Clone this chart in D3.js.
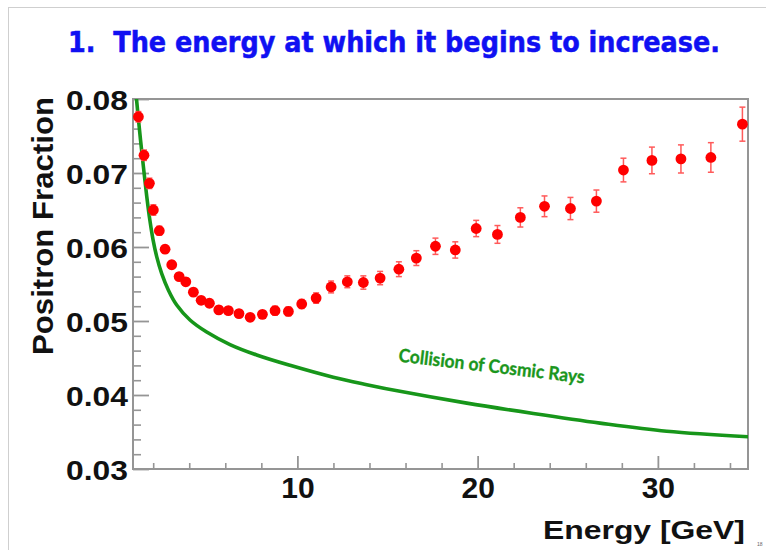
<!DOCTYPE html>
<html>
<head>
<meta charset="utf-8">
<script src="https://cdn.jsdelivr.net/npm/d3@7"></script>
<style>
  html, body { margin: 0; padding: 0; background: #ffffff; }
  svg { display: block; }
</style>
</head>
<body>
<svg id="chart" width="766" height="550"></svg>
<script>
// Measured positron fraction
const energy = [1.18, 1.49, 1.79, 2.01, 2.34, 2.66, 3.03, 3.44, 3.81, 4.23,
                4.66, 5.12, 5.64, 6.17, 6.76, 7.38, 8.06, 8.76, 9.50, 10.24,
                11.04, 11.87, 12.77, 13.66, 14.59, 15.63, 16.6, 17.66, 18.76, 19.92,
                21.1, 22.37, 23.71, 25.15, 26.59, 28.09, 29.67, 31.28, 32.94, 34.69];
const fraction = [0.0776, 0.0724, 0.0686, 0.0650, 0.0622, 0.0597, 0.0576, 0.0560, 0.0553, 0.0539,
                  0.0528, 0.0524, 0.0515, 0.0514, 0.0510, 0.0505, 0.0509, 0.0514, 0.0513, 0.0523,
                  0.0531, 0.0546, 0.0553, 0.0552, 0.0558, 0.0570, 0.0585, 0.0601, 0.0596, 0.0625,
                  0.0617, 0.0640, 0.0655, 0.0652, 0.0662, 0.0704, 0.0717, 0.0719, 0.0721, 0.0766];
const fractionErr = [0.0007, 0.0007, 0.0007, 0.0007, 0.0006, 0.0005, 0.0005, 0.0005, 0.0005, 0.0005,
                     0.0005, 0.0005, 0.0005, 0.0005, 0.0005, 0.0005, 0.0005, 0.0006, 0.0006, 0.0006,
                     0.0007, 0.0008, 0.0008, 0.0009, 0.0009, 0.0010, 0.0010, 0.0011, 0.0011, 0.0011,
                     0.0012, 0.0013, 0.0014, 0.0015, 0.0015, 0.0016, 0.0018, 0.0019, 0.0020, 0.0023];

// Expected fraction from cosmic-ray collisions (secondary production)
const cosmicEnergy = [1.02, 1.074, 1.185, 1.296, 1.451, 1.640, 1.823, 1.990, 2.195, 2.473,
                      2.839, 3.305, 4.042, 4.969, 6.262, 7.743, 9.591, 11.99, 13.85, 15.69,
                      19.40, 23.09, 26.79, 30.49, 35.02];
const cosmicFraction = [0.0815, 0.0800, 0.0772, 0.0745, 0.0710, 0.0669, 0.0635, 0.0610, 0.0587, 0.0564,
                        0.0542, 0.05216, 0.05014, 0.04851, 0.04682, 0.04541, 0.04401, 0.0424, 0.0414, 0.0405,
                        0.0389, 0.0375, 0.0362, 0.0351, 0.03435];

// Axis ticks
const xMajorTicks = [10, 20, 30];
const xMinorTicks = [2, 4, 6, 8, 12, 14, 16, 18, 22, 24, 26, 28, 32, 34];
const yMajorTicks = [0.03, 0.04, 0.05, 0.06, 0.07, 0.08];
const yMinorTicks = [0.032, 0.034, 0.036, 0.038, 0.042, 0.044, 0.046, 0.048,
                     0.052, 0.054, 0.056, 0.058, 0.062, 0.064, 0.066, 0.068,
                     0.072, 0.074, 0.076, 0.078];

const titleText = "1.  The energy at which it begins to increase.";
const xTitle = "Energy [GeV]";
const yTitle = "Positron Fraction";
const curveLabel = "Collision of Cosmic Rays";
const pageNumber = "18";

const svg = d3.select("#chart");
const W = 766, H = 550;
const plot = { left: 133, right: 748, top: 99, bottom: 469 };

const x = d3.scaleLinear().domain([0.88, 35.0]).range([plot.left, plot.right]);
const y = d3.scaleLinear().domain([0.03, 0.08]).range([plot.bottom, plot.top]);

const axisGrey = "#959595";
const boldFont = "'Liberation Sans', Arial, sans-serif";

svg.append("rect").attr("width", W).attr("height", H).attr("fill", "#ffffff");

// slide frame
svg.append("rect")
  .attr("x", 8.5).attr("y", 7.5).attr("width", 800).attr("height", 600)
  .attr("fill", "none").attr("stroke", "#cfcfcf").attr("stroke-width", 1);

// title: heavy face stretched vertically to the slide's header style
svg.append("text")
  .attr("transform", "translate(68,52) scale(1,1.17)")
  .style("white-space", "pre")
  .attr("font-family", "'DejaVu Sans', Verdana, sans-serif")
  .attr("font-weight", "bold")
  .attr("font-size", 23.5)
  .attr("fill", "#1010f2")
  .attr("stroke", "#1010f2").attr("stroke-width", 0.45)
  .attr("textLength", 652)
  .attr("lengthAdjust", "spacingAndGlyphs")
  .text(titleText);

svg.append("defs").append("clipPath").attr("id", "plotClip")
  .append("rect")
  .attr("x", plot.left).attr("y", plot.top)
  .attr("width", plot.right - plot.left).attr("height", plot.bottom - plot.top);

// minor ticks
svg.append("g")
  .attr("transform", `translate(0,${plot.bottom})`)
  .call(d3.axisBottom(x).tickValues(xMinorTicks).tickSize(-6).tickFormat(""))
  .call(g => g.select(".domain").remove())
  .call(g => g.selectAll("line").attr("stroke", axisGrey).attr("stroke-width", 1.6));

svg.append("g")
  .attr("transform", `translate(${plot.left},0)`)
  .call(d3.axisLeft(y).tickValues(yMinorTicks).tickSize(-8).tickFormat(""))
  .call(g => g.select(".domain").remove())
  .call(g => g.selectAll("line").attr("stroke", axisGrey).attr("stroke-width", 1.6));

// major ticks with labels
svg.append("g")
  .attr("transform", `translate(0,${plot.bottom})`)
  .call(d3.axisBottom(x).tickValues(xMajorTicks).tickSize(-13).tickPadding(8).tickFormat(d3.format("d")))
  .call(g => g.select(".domain").remove())
  .call(g => g.selectAll("line").attr("stroke", axisGrey).attr("stroke-width", 1.8))
  .call(g => g.selectAll("text")
    .attr("font-family", boldFont).attr("font-weight", "bold")
    .attr("font-size", 30).attr("fill", "#111"));

svg.append("g")
  .attr("transform", `translate(${plot.left},0)`)
  .call(d3.axisLeft(y).tickValues(yMajorTicks).tickSize(-16).tickPadding(5).tickFormat(d3.format(".2f")))
  .call(g => g.select(".domain").remove())
  .call(g => g.selectAll("line").attr("stroke", axisGrey).attr("stroke-width", 1.8))
  .call(g => g.selectAll("text")
    .attr("font-family", boldFont).attr("font-weight", "bold")
    .attr("font-size", 27).attr("fill", "#111")
    .attr("dy", "0.37em")
    .attr("textLength", 62).attr("lengthAdjust", "spacingAndGlyphs"));

// plot frame
svg.append("rect")
  .attr("x", plot.left).attr("y", plot.top)
  .attr("width", plot.right - plot.left).attr("height", plot.bottom - plot.top)
  .attr("fill", "none").attr("stroke", axisGrey).attr("stroke-width", 2);

// cosmic-ray collision curve
const cosmic = cosmicEnergy.map((e, i) => [e, cosmicFraction[i]]);
svg.append("path")
  .datum(cosmic)
  .attr("clip-path", "url(#plotClip)")
  .attr("fill", "none")
  .attr("stroke", "#17961a")
  .attr("stroke-width", 3.6)
  .attr("d", d3.line().x(d => x(d[0])).y(d => y(d[1])).curve(d3.curveCatmullRom.alpha(0.5)));

svg.append("text")
  .attr("transform", "translate(398,361.5) rotate(6.7)")
  .attr("font-family", "Lato, 'Open Sans', sans-serif")
  .attr("font-weight", "bold")
  .attr("font-size", 18.5)
  .attr("fill", "#1a961c")
  .attr("stroke", "#1a961c").attr("stroke-width", 0.35)
  .attr("textLength", 187)
  .attr("lengthAdjust", "spacingAndGlyphs")
  .text(curveLabel);

// measured points with error bars
const points = energy.map((e, i) => ({ e, f: fraction[i], err: fractionErr[i] }));
const pts = svg.append("g");
const capHalf = 3;
pts.selectAll("line.bar").data(points).join("line")
  .attr("class", "bar")
  .attr("x1", d => x(d.e)).attr("x2", d => x(d.e))
  .attr("y1", d => y(d.f - d.err)).attr("y2", d => y(d.f + d.err))
  .attr("stroke", "#ff5a5a").attr("stroke-width", 1.5);
pts.selectAll("line.capLo").data(points).join("line")
  .attr("class", "capLo")
  .attr("x1", d => x(d.e) - capHalf).attr("x2", d => x(d.e) + capHalf)
  .attr("y1", d => y(d.f - d.err)).attr("y2", d => y(d.f - d.err))
  .attr("stroke", "#ff5a5a").attr("stroke-width", 1.5);
pts.selectAll("line.capHi").data(points).join("line")
  .attr("class", "capHi")
  .attr("x1", d => x(d.e) - capHalf).attr("x2", d => x(d.e) + capHalf)
  .attr("y1", d => y(d.f + d.err)).attr("y2", d => y(d.f + d.err))
  .attr("stroke", "#ff5a5a").attr("stroke-width", 1.5);
pts.selectAll("circle").data(points).join("circle")
  .attr("cx", d => x(d.e)).attr("cy", d => y(d.f))
  .attr("r", 5.4)
  .attr("fill", "#ff0000");

// axis titles
svg.append("text")
  .attr("x", 745).attr("y", 538.5)
  .attr("text-anchor", "end")
  .attr("font-family", boldFont).attr("font-weight", "bold")
  .attr("font-size", 26).attr("fill", "#111")
  .attr("textLength", 202).attr("lengthAdjust", "spacingAndGlyphs")
  .text(xTitle);

svg.append("text")
  .attr("transform", "translate(53,226) rotate(-90)")
  .attr("text-anchor", "middle")
  .attr("font-family", boldFont).attr("font-weight", "bold")
  .attr("font-size", 30).attr("fill", "#111")
  .attr("textLength", 258).attr("lengthAdjust", "spacingAndGlyphs")
  .text(yTitle);

svg.append("text")
  .attr("x", 757).attr("y", 546)
  .attr("font-family", boldFont)
  .attr("font-size", 5).attr("fill", "#666")
  .text(pageNumber);
</script>
</body>
</html>
